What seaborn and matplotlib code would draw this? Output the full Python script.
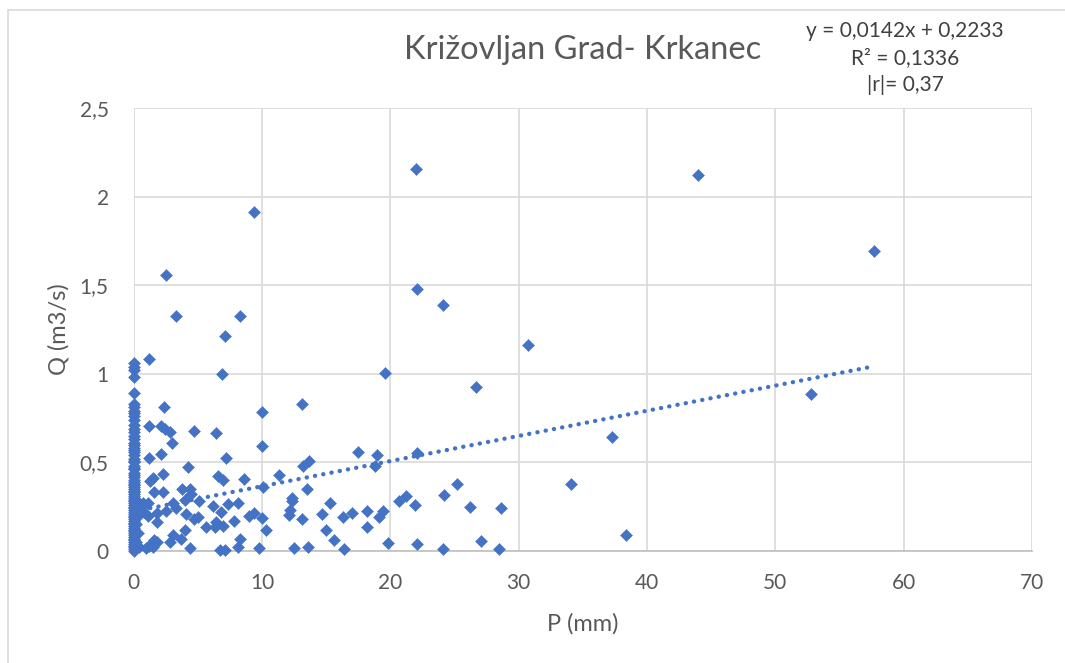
import numpy as np
import pandas as pd
import matplotlib
matplotlib.use("Agg")
import matplotlib.pyplot as plt
import seaborn as sns
from matplotlib.patches import Rectangle

# Data
P_zero = [0.0] * 72
Q_zero = [1.06, 1.04, 1.02, 0.98, 0.89, 0.83, 0.81, 0.79, 0.78, 0.76, 0.74, 0.71,
          0.69, 0.67, 0.65, 0.63, 0.61, 0.60, 0.58, 0.57, 0.56, 0.54, 0.52, 0.51,
          0.50, 0.48, 0.47, 0.46, 0.44, 0.43, 0.42, 0.40, 0.39, 0.38, 0.37, 0.36,
          0.35, 0.34, 0.33, 0.32, 0.31, 0.30, 0.29, 0.28, 0.27, 0.26, 0.25, 0.24,
          0.23, 0.22, 0.21, 0.20, 0.19, 0.18, 0.17, 0.16, 0.15, 0.14, 0.13, 0.12,
          0.11, 0.10, 0.09, 0.08, 0.07, 0.06, 0.05, 0.04, 0.03, 0.02, 0.01, 0.00]

P_rest = [0.3, 0.5, 0.4, 0.6, 0.3, 0.2, 0.3, 0.2, 0.4,
          22.0, 44.0, 57.7, 9.4, 2.5, 3.3, 8.3, 7.1, 22.05, 24.1, 30.7, 19.6, 6.9,
          1.2, 26.7, 52.8, 13.1, 2.4, 10.0, 1.2, 2.15, 2.45, 2.8, 4.7, 6.4, 3.0,
          10.0, 37.3, 1.2, 2.1, 7.2, 17.5, 19.0, 22.1, 13.7, 13.2, 18.8, 4.2, 2.3,
          1.3, 1.5, 6.6, 7.0, 8.6, 11.3, 10.1, 13.5, 34.1, 25.2, 3.8, 4.4, 1.6,
          2.3, 4.5, 24.2, 21.2, 12.3, 12.3, 20.7, 15.3, 5.1, 4.0, 3.06, 0.7, 1.1,
          6.2, 7.35, 8.1, 21.9, 26.2, 28.6, 3.3, 2.5, 1.85, 0.8, 1.1, 4.1, 6.8,
          9.4, 9.0, 12.2, 12.1, 14.7, 17.0, 18.2, 19.4, 19.1, 16.3, 5.0, 4.7,
          1.85, 10.0, 13.1, 6.4, 7.8, 5.6, 6.3, 7.0, 18.2, 4.0, 10.3, 15.0, 3.1,
          38.4, 2.8, 3.7, 1.6, 8.3, 15.6, 27.1, 1.4, 19.8, 22.1, 1.0, 1.5, 4.4,
          6.75, 7.1, 8.1, 9.8, 12.5, 13.6, 16.4, 24.1, 28.5, 1.2, 1.8]
Q_rest = [0.25, 0.22, 0.27, 0.24, 0.20, 0.15, 0.10, 0.05, 0.02,
          2.155, 2.12, 1.695, 1.915, 1.555, 1.325, 1.325, 1.215, 1.476, 1.387,
          1.165, 1.005, 1.0, 1.085, 0.927, 0.885, 0.83, 0.81, 0.785, 0.705,
          0.705, 0.686, 0.673, 0.675, 0.666, 0.61, 0.595, 0.645, 0.523, 0.547,
          0.523, 0.557, 0.543, 0.553, 0.51, 0.478, 0.48, 0.476, 0.434, 0.397,
          0.41, 0.423, 0.40, 0.404, 0.427, 0.362, 0.352, 0.378, 0.376, 0.348,
          0.348, 0.33, 0.33, 0.32, 0.318, 0.313, 0.30, 0.28, 0.283, 0.271, 0.28,
          0.29, 0.27, 0.27, 0.27, 0.254, 0.265, 0.27, 0.261, 0.246, 0.241, 0.24,
          0.227, 0.216, 0.222, 0.20, 0.209, 0.222, 0.216, 0.197, 0.231, 0.203,
          0.208, 0.216, 0.226, 0.225, 0.194, 0.19, 0.19, 0.179, 0.165, 0.184,
          0.18, 0.165, 0.171, 0.134, 0.134, 0.141, 0.135, 0.118, 0.118, 0.118,
          0.09, 0.09, 0.052, 0.07, 0.062, 0.066, 0.062, 0.058, 0.043, 0.043,
          0.04, 0.015, 0.024, 0.015, 0.005, 0.005, 0.021, 0.015, 0.019, 0.02,
          0.011, 0.011, 0.013, 0.03, 0.05]

# Trendline as printed on the chart
slope = 0.0142
intercept = 0.2233

x_ticks = [0, 10, 20, 30, 40, 50, 60, 70]
y_ticks = [0, 0.5, 1, 1.5, 2, 2.5]
y_tick_labels = ["0", "0,5", "1", "1,5", "2", "2,5"]

title = "Križovljan Grad- Krkanec"
eq_text = "y = 0,0142x + 0,2233\nR² = 0,1336\n|r|= 0,37"

df = pd.DataFrame({"P": P_zero + P_rest, "Q": Q_zero + Q_rest})

sns.set_style("white")
plt.rcParams["font.family"] = ["Lato", "DejaVu Sans"]

BLUE = "#4472C4"
GREY_TXT = "#595959"

fig = plt.figure(figsize=(10.65, 6.63), dpi=100)
ax = fig.add_axes([0.1255, 0.169, 0.969 - 0.1255, 0.837 - 0.169])

# chart area border (cropped at right/bottom)
fig.patches.append(Rectangle((8 / 1065, -0.1), 1.2, 1 - 10 / 663 + 0.1,
                             transform=fig.transFigure, fill=False,
                             edgecolor="#D9D9D9", lw=1.2, zorder=0))

sns.scatterplot(data=df, x="P", y="Q", marker="D", s=38, color=BLUE,
                edgecolor=BLUE, linewidth=0.3, ax=ax, zorder=3, clip_on=False)

tx = np.array([0, max(df["P"])])
ax.plot(tx, slope * tx + intercept, color=BLUE, lw=3.1, ls=(0, (0.05, 1.9)),
        dash_capstyle="round", zorder=2)

ax.set_xlim(0, 70)
ax.set_ylim(0, 2.5)
ax.set_xticks(x_ticks)
ax.set_yticks(y_ticks)
ax.set_yticklabels(y_tick_labels)
ax.grid(True, color="#D9D9D9", lw=1.2)
ax.set_axisbelow(True)
for s in ["top", "right", "left"]:
    ax.spines[s].set_visible(False)
ax.spines["bottom"].set_color("#BFBFBF")
ax.spines["bottom"].set_linewidth(1.2)
ax.tick_params(axis="both", length=0, labelsize=15, colors=GREY_TXT)
ax.tick_params(axis="x", pad=16)
ax.tick_params(axis="y", pad=18)

ax.set_xlabel("P (mm)", fontsize=17, color=GREY_TXT, labelpad=14)
ax.set_ylabel("Q (m3/s)", fontsize=17, color=GREY_TXT, labelpad=7)

fig.text(583 / 1065, 1 - 50 / 663, title, fontsize=23.5, color=GREY_TXT,
         ha="center", va="center")
fig.text(905 / 1065, 1 - 58 / 663, eq_text, fontsize=15, color="#404040",
         ha="center", va="center", linespacing=1.45)

fig.savefig("out.png", dpi=100)
